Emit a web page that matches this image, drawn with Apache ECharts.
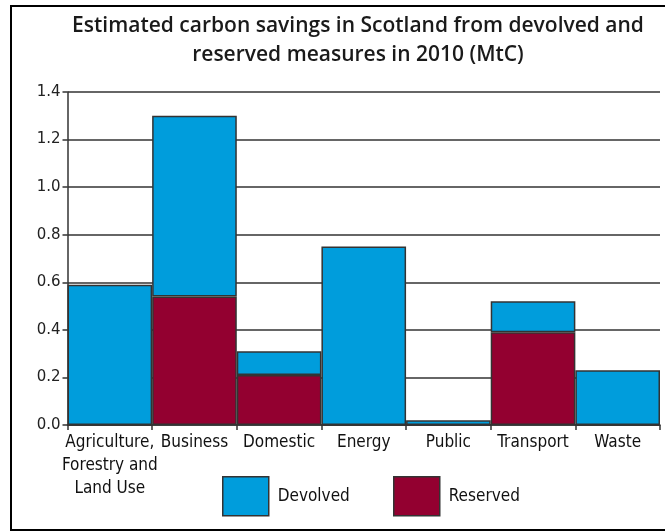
<!DOCTYPE html>
<html>
<head>
<meta charset="utf-8">
<script src="https://cdn.jsdelivr.net/npm/echarts@6/dist/echarts.min.js"></script>
<style>
html,body{margin:0;padding:0;background:#fff;}
#frame{position:absolute;left:10px;top:5px;width:660px;height:522px;border-left:2px solid #000;border-top:2px solid #000;border-bottom:2px solid #000;box-sizing:content-box;}
#chart{position:absolute;left:0;top:0;width:665px;height:531px;}
</style>
</head>
<body>
<div id="frame"></div>
<div id="chart"></div>
<script>
const categories = ['Agriculture,\nForestry and\nLand Use', 'Business', 'Domestic', 'Energy', 'Public', 'Transport', 'Waste'];
const reserved = [0, 0.54, 0.21, 0, 0, 0.39, 0];
const devolved = [0.59, 0.76, 0.10, 0.75, 0.02, 0.13, 0.23];
const yTicks = [0, 0.2, 0.4, 0.6, 0.8, 1.0, 1.2, 1.4];

const BLUE = '#009ddc';
const RED = '#930030';
const LINE = '#333333';
const NARROW = "'Liberation Sans Narrow','DejaVu Sans Condensed',sans-serif";

const chart = echarts.init(document.getElementById('chart'), null, {renderer: 'canvas'});
const legendCommon = {top: 476, padding: 0, icon: 'rect', itemWidth: 46, itemHeight: 39, itemGap: 9,
  itemStyle: {borderColor: LINE, borderWidth: 1.5},
  textStyle: {fontFamily: NARROW, fontSize: 17, color: '#111', padding: [4,0,0,4]}};
chart.setOption({
  animation: false,
  backgroundColor: 'transparent',
  title: {
    text: 'Estimated carbon savings in Scotland from devolved and\nreserved measures in 2010 (MtC)',
    left: 358, top: 12, textAlign: 'center', padding: 0,
    textStyle: {fontFamily: 'Open Sans', fontWeight: 600, fontSize: 21, lineHeight: 29, color: '#1a1a1a'}
  },
  legend: [
    Object.assign({data: ['Devolved'], left: 222}, legendCommon),
    Object.assign({data: ['Reserved'], left: 393}, legendCommon)
  ],
  grid: {left: 67.5, right: 5, top: 92, bottom: 106, containLabel: false},
  xAxis: {
    type: 'category', data: categories,
    axisLine: {lineStyle: {color: LINE, width: 1.5}},
    axisTick: {show: true, alignWithLabel: false, length: 5, lineStyle: {color: LINE, width: 1.5}},
    axisLabel: {interval: 0, margin: 6, fontFamily: NARROW, fontSize: 17, lineHeight: 23, color: '#111', verticalAlign: 'top'}
  },
  yAxis: {
    type: 'value', min: 0, max: 1.4, interval: 0.2,
    axisLine: {show: true, lineStyle: {color: LINE, width: 1.5}},
    axisTick: {show: true, length: 5, lineStyle: {color: LINE, width: 1.5}},
    splitLine: {show: true, lineStyle: {color: LINE, width: 1.5}},
    axisLabel: {margin: 7, fontFamily: 'DejaVu Sans', fontSize: 15, color: '#222',
      formatter: v => { const t = yTicks.find(x => Math.abs(x - v) < 1e-9); return (t !== undefined ? t : v).toFixed(1); }}
  },
  series: [
    {name: 'Reserved', type: 'bar', stack: 'total', data: reserved, barCategoryGap: '0%',
     itemStyle: {color: RED, borderColor: LINE, borderWidth: 1.5}},
    {name: 'Devolved', type: 'bar', stack: 'total', data: devolved, barCategoryGap: '0%',
     itemStyle: {color: BLUE, borderColor: LINE, borderWidth: 1.5}}
  ]
});
</script>
</body>
</html>
